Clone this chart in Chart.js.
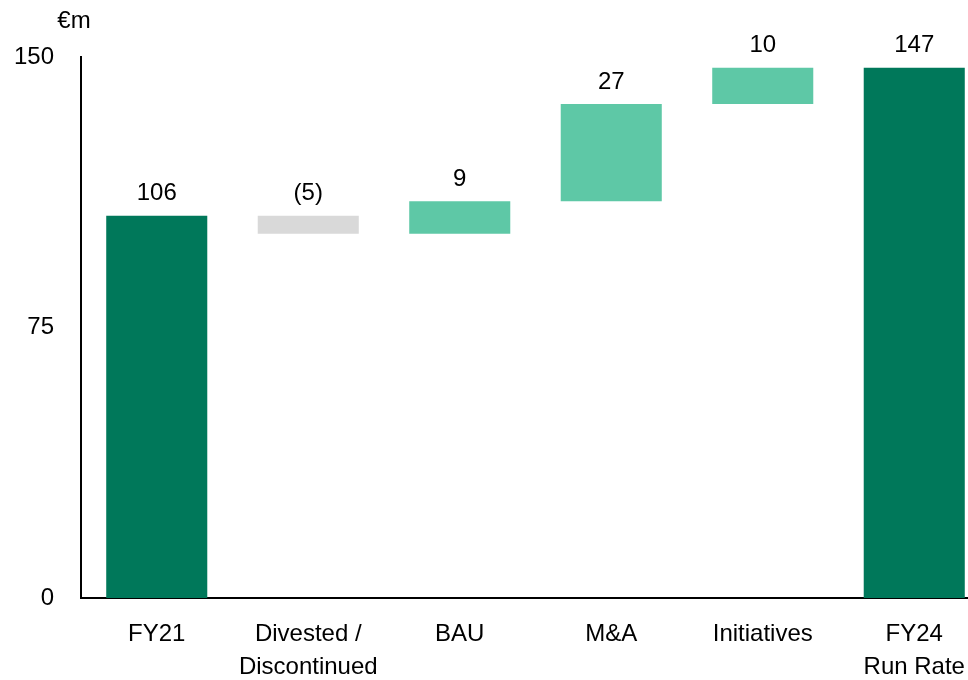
<!DOCTYPE html>
<html>
<head>
<meta charset="utf-8">
<script src="https://cdn.jsdelivr.net/npm/chart.js@4"></script>
<style>
  html, body { margin: 0; padding: 0; background: #fff; overflow: hidden; }
  #wrap { width: 990px; height: 680px; }
</style>
</head>
<body>
<div id="wrap"><canvas id="waterfall"></canvas></div>
<script>
const categories = [['FY21'], ['Divested /', 'Discontinued'], ['BAU'], ['M&A'], ['Initiatives'], ['FY24', 'Run Rate']];
const changes = [106, -5, 9, 27, 10, 147];
const isTotal = [true, false, false, false, false, true];
const valueLabels = ['106', '(5)', '9', '27', '10', '147'];
const yTicks = [0, 75, 150];
const unitLabel = '€m';

const FONT = "'Liberation Sans', Arial, sans-serif";
const DARK = '#00785a';
const LIGHT = '#5ec8a6';
const GREY = '#d9d9d9';

// build floating ranges from the running total
let running = 0;
const ranges = changes.map((v, i) => {
    if (isTotal[i]) { running = v; return [0, v]; }
    const start = running;
    running += v;
    return [start, running];
});
const colors = changes.map((v, i) => isTotal[i] ? DARK : (v < 0 ? GREY : LIGHT));

const labelPlugin = {
    id: 'labels',
    afterDatasetsDraw(chart) {
        const ctx = chart.ctx;
        const meta = chart.getDatasetMeta(0);
        const y = chart.scales.y;
        ctx.save();
        ctx.font = '24px ' + FONT;
        ctx.fillStyle = '#000';
        ctx.textAlign = 'center';
        ctx.textBaseline = 'bottom';
        meta.data.forEach((bar, i) => {
            const top = y.getPixelForValue(Math.max(ranges[i][0], ranges[i][1]));
            ctx.fillText(valueLabels[i], bar.x, top - 10);
        });
        ctx.fillText(unitLabel, 74, 33);
        ctx.restore();
    }
};

new Chart(document.getElementById('waterfall'), {
    type: 'bar',
    data: {
        labels: categories,
        datasets: [{
            data: ranges,
            backgroundColor: colors,
            borderWidth: 0,
            categoryPercentage: 1,
            barPercentage: 0.667
        }]
    },
    options: {
        responsive: true,
        maintainAspectRatio: false,
        animation: false,
        layout: { padding: { top: 57, right: 0, left: 0, bottom: 0 } },
        plugins: { legend: { display: false }, tooltip: { enabled: false } },
        scales: {
            x: {
                grid: { display: false, drawTicks: false },
                border: { color: '#000', width: 2 },
                ticks: { color: '#000', font: { family: FONT, size: 24, lineHeight: 1.38 }, padding: 20, maxRotation: 0, autoSkip: false },
                afterFit(scale) { scale.height = 82; }
            },
            y: {
                min: 0,
                max: 150,
                grid: { display: false, drawTicks: false },
                border: { color: '#000', width: 2 },
                afterBuildTicks(scale) { scale.ticks = yTicks.map(v => ({ value: v })); },
                ticks: { color: '#000', font: { family: FONT, size: 24 }, padding: 27 },
                afterFit(scale) { scale.width = 81; }
            }
        }
    },
    plugins: [labelPlugin]
});
</script>
</body>
</html>
